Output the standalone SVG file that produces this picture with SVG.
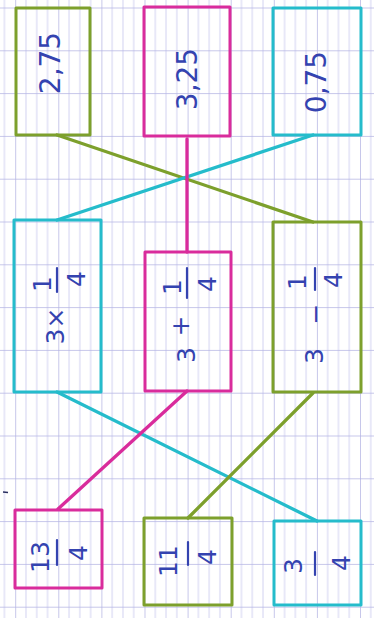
<svg xmlns="http://www.w3.org/2000/svg" width="374" height="618" viewBox="0 0 374 618">
<style>
.box{fill:none;stroke-width:3;stroke-linejoin:round}
.g{stroke:#7da02c}
.m{stroke:#d92c9c}
.c{stroke:#25bccb}
.con{stroke-width:3.3;stroke-linecap:round}
.t{font-family:"DejaVu Sans","Liberation Sans",sans-serif;fill:#3443b0;text-anchor:middle;dominant-baseline:central}
.big{font-size:28px}
.f{font-size:25px}
.bar{stroke:#3443b0;stroke-width:2.2;stroke-linecap:round}
</style>
<defs>
<pattern id="grid" patternUnits="userSpaceOnUse" x="15.2" y="7.5" width="43.1" height="42.8">
<rect width="43.1" height="42.8" fill="#ffffff"/>
<line x1="0" y1="0" x2="0" y2="42.8" stroke="#a9a9df" stroke-width="1.3"/>
<line x1="10.78" y1="0" x2="10.78" y2="42.8" stroke="#d2d2f2" stroke-width="1"/>
<line x1="21.55" y1="0" x2="21.55" y2="42.8" stroke="#d2d2f2" stroke-width="1"/>
<line x1="32.33" y1="0" x2="32.33" y2="42.8" stroke="#d2d2f2" stroke-width="1"/>
<line x1="0" y1="0" x2="43.1" y2="0" stroke="#b4b4e4" stroke-width="1.3"/>
</pattern>
</defs>
<rect width="374" height="618" fill="url(#grid)"/>
<line x1="3" y1="492" x2="8" y2="492.5" stroke="#2a2f60" stroke-width="1.5"/>

<g id="connectors">
<line class="con g" x1="57" y1="135" x2="313" y2="222"/>
<line class="con c" x1="313" y1="135" x2="57" y2="220"/>
<line class="con m" x1="187" y1="139" x2="187" y2="252"/>
<line class="con c" x1="57" y1="392" x2="317" y2="521"/>
<line class="con m" x1="187" y1="391" x2="58" y2="509"/>
<line class="con g" x1="313" y1="393" x2="188" y2="518"/>
</g>

<g id="n-275">
<rect class="box g" x="16" y="8" width="74" height="127"/>
<text class="t big" transform="translate(50,63) rotate(-90)">2,75</text>
</g>
<g id="n-325">
<rect class="box m" x="144" y="7" width="86" height="129"/>
<text class="t big" transform="translate(187,79) rotate(-90)">3,25</text>
</g>
<g id="n-075">
<rect class="box c" x="273" y="8" width="88" height="127"/>
<text class="t big" transform="translate(316,82) rotate(-90)">0,75</text>
</g>

<g id="n-3x14">
<rect class="box c" x="14" y="220" width="87" height="172"/>
<text class="t f" transform="translate(55,326) rotate(-90)">3×</text>
<line class="bar" x1="57" y1="268" x2="57" y2="292"/>
<text class="t f" transform="translate(42,284) rotate(-90)">1</text>
<text class="t f" transform="translate(76,279) rotate(-90)">4</text>
</g>
<g id="n-3p14">
<rect class="box m" x="145" y="252" width="86" height="139"/>
<text class="t f" transform="translate(180,326) rotate(-90)">+</text>
<text class="t f" transform="translate(186,355) rotate(-90)">3</text>
<line class="bar" x1="187" y1="268" x2="187" y2="298"/>
<text class="t f" transform="translate(172,287) rotate(-90)">1</text>
<text class="t f" transform="translate(207,284) rotate(-90)">4</text>
</g>
<g id="n-3m14">
<rect class="box g" x="273" y="222" width="88" height="170"/>
<text class="t f" transform="translate(315,314) rotate(-90)">−</text>
<text class="t f" transform="translate(314,356) rotate(-90)">3</text>
<line class="bar" x1="315" y1="268" x2="315" y2="290"/>
<text class="t f" transform="translate(297,282) rotate(-90)">1</text>
<text class="t f" transform="translate(333,280) rotate(-90)">4</text>
</g>

<g id="n-134">
<rect class="box m" x="15" y="510" width="87" height="78"/>
<line class="bar" x1="57" y1="540" x2="57" y2="565"/>
<text class="t f" transform="translate(40,557) rotate(-90)">13</text>
<text class="t f" transform="translate(78,553) rotate(-90)">4</text>
</g>
<g id="n-114">
<rect class="box g" x="144" y="518" width="88" height="87"/>
<line class="bar" x1="188" y1="542" x2="188" y2="565"/>
<text class="t f" transform="translate(168,561) rotate(-90)">11</text>
<text class="t f" transform="translate(207,557) rotate(-90)">4</text>
</g>
<g id="n-34">
<rect class="box c" x="274" y="521" width="87" height="84"/>
<line class="bar" x1="315" y1="552" x2="315" y2="575"/>
<text class="t f" transform="translate(293,566) rotate(-90)">3</text>
<text class="t f" transform="translate(341,563) rotate(-90)">4</text>
</g>
</svg>
